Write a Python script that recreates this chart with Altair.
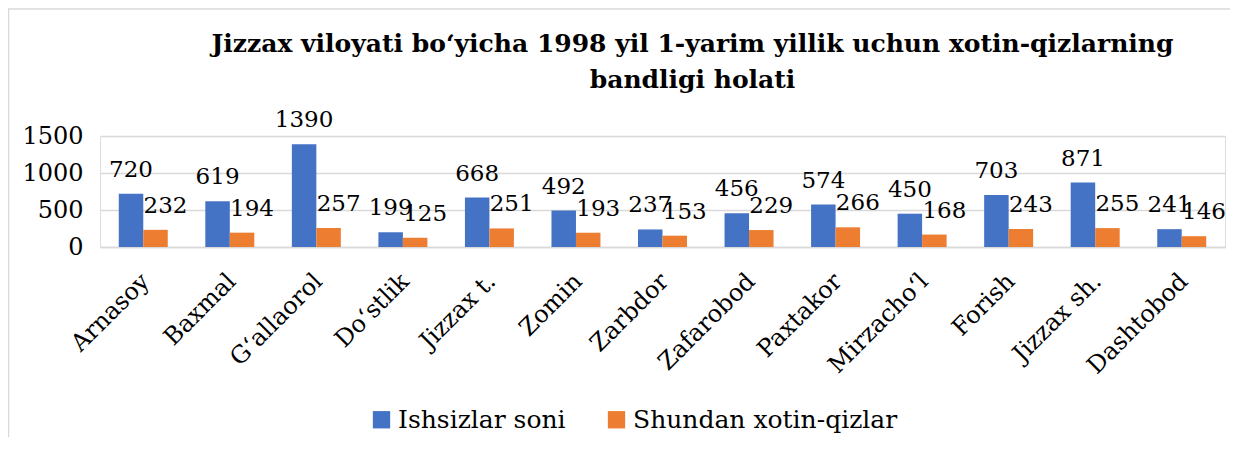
import altair as alt
import pandas as pd

categories = ["Arnasoy", "Baxmal", "G‘allaorol", "Do‘stlik", "Jizzax t.", "Zomin",
              "Zarbdor", "Zafarobod", "Paxtakor", "Mirzacho‘l", "Forish", "Jizzax sh.", "Dashtobod"]
total = [720, 619, 1390, 199, 668, 492, 237, 456, 574, 450, 703, 871, 241]
women = [232, 194, 257, 125, 251, 193, 153, 229, 266, 168, 243, 255, 146]
series_names = ["Ishsizlar soni", "Shundan xotin-qizlar"]
colors = ["#4472C4", "#ED7D31"]
y_ticks = [0, 500, 1000, 1500]
title_lines = ["Jizzax viloyati bo‘yicha 1998 yil 1-yarim yillik uchun xotin-qizlarning",
               "bandligi holati"]

rows = []
for c, t, w in zip(categories, total, women):
    rows.append({"district": c, "series": series_names[0], "value": t})
    rows.append({"district": c, "series": series_names[1], "value": w})
df = pd.DataFrame(rows)

FONT = "DejaVu Serif"
GRID = "#d9d9d9"

x_enc = alt.X("district:N", sort=categories,
              scale=alt.Scale(paddingInner=0.434, paddingOuter=0.217),
              axis=alt.Axis(labelAngle=-45, labelAlign="right", labelBaseline="top",
                            labelFontSize=24, labelFont=FONT, labelColor="black",
                            labelPadding=22, labelOffset=-6, ticks=False,
                            domainColor=GRID, domainWidth=1.5, labelLimit=400),
              title=None)
xo_enc = alt.XOffset("series:N", sort=series_names,
                     scale=alt.Scale(paddingInner=0, paddingOuter=0))
y_enc = alt.Y("value:Q", scale=alt.Scale(domain=[0, 1500], nice=False),
              axis=alt.Axis(values=y_ticks, format="d", labelFontSize=24, labelFont=FONT,
                            labelColor="black", labelPadding=17, ticks=False,
                            domain=False, gridColor=GRID, gridWidth=1.5),
              title=None)

base = alt.Chart(df)

bars = base.mark_bar().encode(
    x=x_enc, xOffset=xo_enc, y=y_enc,
    color=alt.Color("series:N", sort=series_names,
                    scale=alt.Scale(domain=series_names, range=colors),
                    legend=alt.Legend(orient="none", legendX=269, legendY=271,
                                      direction="horizontal", title=None,
                                      symbolType="square", symbolSize=300,
                                      symbolStrokeWidth=0, labelFontSize=25,
                                      labelFont=FONT, labelColor="black",
                                      labelOffset=4, columnPadding=38,
                                      padding=0, labelLimit=600))
)

lab_blue = base.transform_filter(alt.datum.series == series_names[0]).mark_text(
    baseline="alphabetic", dy=-17, fontSize=23, font=FONT, color="black"
).encode(x=x_enc, xOffset=xo_enc, y=y_enc, text="value:Q")

lab_orange = base.transform_filter(alt.datum.series == series_names[1]).mark_text(
    baseline="alphabetic", dy=-17, dx=10, fontSize=23, font=FONT, color="black"
).encode(x=x_enc, xOffset=xo_enc, y=y_enc, text="value:Q")

frame_df = pd.DataFrame({"k": [0]})
frame_left = alt.Chart(frame_df).mark_rule(color=GRID, strokeWidth=1.5).encode(
    x=alt.value(-91.5), y=alt.value(-127), y2=alt.value(330))
frame_top = alt.Chart(frame_df).mark_rule(color=GRID, strokeWidth=1.5).encode(
    x=alt.value(-92), x2=alt.value(1130), y=alt.value(-127))

chart = alt.layer(frame_left, frame_top, bars, lab_blue, lab_orange).properties(
    width=1125, height=111,
    autosize=alt.AutoSizeParams(type="none"),
    padding={"left": 92, "top": 128, "right": 9, "bottom": 190},
    title=alt.TitleParams(text=title_lines, fontSize=25, font=FONT, fontWeight="bold",
                          color="black", anchor="middle", dx=30, lineHeight=36,
                          offset=0, dy=85),
).configure_view(stroke=None).configure(font=FONT)

chart.save("out.html", embed_options={"renderer": "svg", "actions": False})
